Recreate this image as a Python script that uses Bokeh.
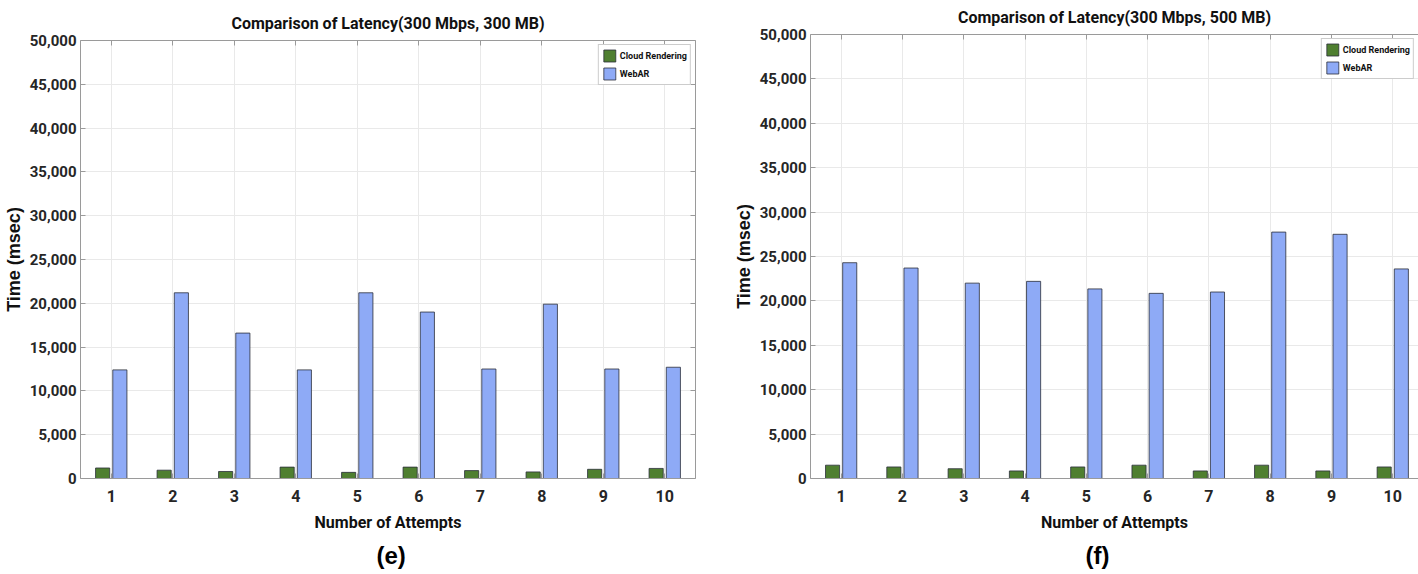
from bokeh.plotting import figure
from bokeh.layouts import row
from bokeh.models import (ColumnDataSource, Range1d, LinearAxis, FixedTicker,
                          NumeralTickFormatter, Title, Legend, LegendItem)
from bokeh.transform import dodge
from bokeh.embed import file_html
from bokeh.resources import INLINE

attempts = [1, 2, 3, 4, 5, 6, 7, 8, 9, 10]
cloud_e = [1200, 950, 800, 1300, 700, 1300, 900, 750, 1050, 1150]
webar_e = [12400, 21200, 16600, 12400, 21200, 19000, 12500, 19900, 12500, 12700]
cloud_f = [1500, 1300, 1100, 850, 1300, 1500, 850, 1500, 850, 1300]
webar_f = [24300, 23700, 22000, 22200, 21350, 20850, 21000, 27750, 27500, 23600]
y_ticks = [0, 5000, 10000, 15000, 20000, 25000, 30000, 35000, 40000, 45000, 50000]
series_names = ["Cloud Rendering", "WebAR"]
title_e = "Comparison of Latency(300 Mbps, 300 MB)"
title_f = "Comparison of Latency(300 Mbps, 500 MB)"
panel_tags = ["(e)", "(f)"]
x_label = "Number of Attempts"
y_label = "Time (msec)"

GREEN = "#4f7f30"
BLUE = "#8eaaf6"
EDGE = "#2b2f3a"
AXIS = "#9a9a9a"
GRID = "#e9e9e9"
FONT = "Roboto"
TXT = "#262626"


def make_chart(title, cloud, webar, tag, width, height, border_left, border_right,
               border_top, border_bottom, x_end, tag_offset, right_axis,
               title_standoff, margin):
    src = ColumnDataSource(dict(x=attempts, cloud=cloud, webar=webar))
    p = figure(width=width, height=height, output_backend="svg",
               toolbar_location=None, x_range=Range1d(0.5, x_end),
               y_range=Range1d(0, 50000), margin=margin,
               min_border_left=border_left, min_border_right=border_right,
               min_border_top=border_top, min_border_bottom=border_bottom)
    p.outline_line_color = None
    p.background_fill_color = "white"
    p.border_fill_color = "white"

    g = p.vbar(x=dodge("x", -0.14, range=p.x_range), top="cloud", width=0.23,
               source=src, fill_color=GREEN, line_color=EDGE, line_width=0.8)
    b = p.vbar(x=dodge("x", 0.14, range=p.x_range), top="webar", width=0.23,
               source=src, fill_color=BLUE, line_color=EDGE, line_width=0.8)

    p.title.text = title
    p.title.align = "center"
    p.title.text_font = FONT
    p.title.text_font_size = "16px"
    p.title.text_font_style = "bold"
    p.title.text_color = "#111111"
    p.title.standoff = title_standoff

    xt = FixedTicker(ticks=attempts)
    yt = FixedTicker(ticks=y_ticks)
    for ax in p.xaxis:
        ax.ticker = xt
    for ax in p.yaxis:
        ax.ticker = yt
        ax.formatter = NumeralTickFormatter(format="0,0")
    p.xgrid.ticker = xt
    p.ygrid.ticker = yt
    p.grid.grid_line_color = GRID

    for ax in p.axis:
        ax.axis_line_color = AXIS
        ax.major_tick_line_color = AXIS
        ax.major_tick_in = 5
        ax.major_tick_out = 0
        ax.minor_tick_line_color = None
        ax.major_label_text_font = FONT
        ax.major_label_text_font_size = "15px"
        ax.major_label_text_font_style = "bold"
        ax.major_label_text_color = TXT
        ax.axis_label_text_font_style = "bold"
        ax.axis_label_text_color = "#111111"
    p.xaxis.major_label_text_font_size = "16px"
    p.xaxis.major_label_standoff = 11
    p.yaxis.major_label_standoff = 4
    p.xaxis.axis_label = x_label
    p.xaxis.axis_label_text_font = FONT
    p.xaxis.axis_label_text_font_size = "16px"
    p.xaxis.axis_label_standoff = 8
    p.yaxis.axis_label = y_label
    p.yaxis.axis_label_text_font = "Liberation Sans"
    p.yaxis.axis_label_text_font_size = "18px"
    p.yaxis.axis_label_standoff = 3

    top = LinearAxis(ticker=xt, major_label_text_font_size="0px",
                     major_label_text_color=None,
                     axis_line_color=AXIS, major_tick_line_color=AXIS,
                     major_tick_in=5, major_tick_out=0,
                     minor_tick_line_color=None, major_label_standoff=0)
    p.add_layout(top, "above")
    if right_axis:
        right = LinearAxis(ticker=yt, major_label_text_font_size="0px",
                           major_label_text_color=None,
                           axis_line_color=AXIS, major_tick_line_color=AXIS,
                           major_tick_in=5, major_tick_out=0,
                           minor_tick_line_color=None, major_label_standoff=0)
        p.add_layout(right, "right")

    p.add_layout(Title(text=tag, align="left", offset=tag_offset,
                       text_font="Liberation Sans", text_font_size="24px",
                       text_font_style="bold", text_color="#000000",
                       standoff=11), "below")

    legend = Legend(items=[LegendItem(label=series_names[0], renderers=[g]),
                           LegendItem(label=series_names[1], renderers=[b])],
                    location="top_right", margin=4, padding=3, spacing=3,
                    glyph_width=15, glyph_height=15, label_standoff=3,
                    label_text_font=FONT, label_text_font_size="9px",
                    label_text_font_style="bold", label_text_color="#111111",
                    label_height=15, border_line_color=AXIS,
                    background_fill_color="white", background_fill_alpha=1.0)
    p.add_layout(legend)
    return p


p1 = make_chart(title_e, cloud_e, webar_e, panel_tags[0], width=720, height=574,
                border_left=80, border_right=25, border_top=40,
                border_bottom=92, x_end=10.5, tag_offset=296,
                right_axis=True, title_standoff=16, margin=(0, 0, 0, 0))
p2 = make_chart(title_f, cloud_f, webar_f, panel_tags[1], width=698, height=580,
                border_left=90, border_right=0, border_top=40,
                border_bottom=95, x_end=10.42, tag_offset=275,
                right_axis=False, title_standoff=16, margin=(-6, 0, 0, 0))

layout = row(p1, p2, spacing=0)
open("out.html", "w").write(file_html(layout, INLINE))
